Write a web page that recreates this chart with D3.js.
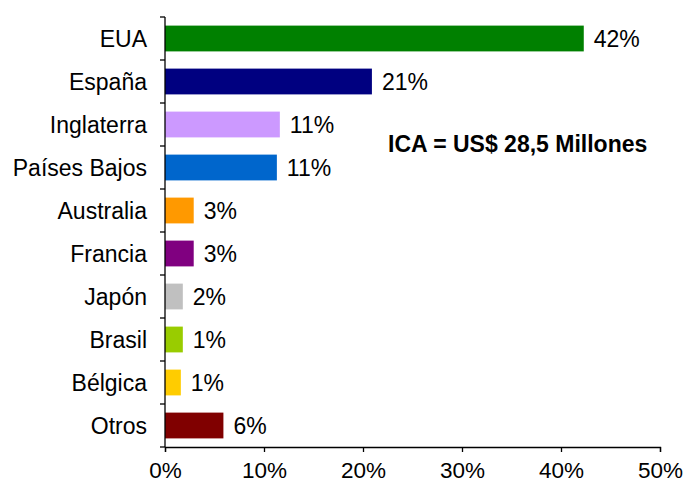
<!DOCTYPE html>
<html><head><meta charset="utf-8">
<script src="https://cdn.jsdelivr.net/npm/d3@7"></script>
<style>body{margin:0;background:#fff}svg{display:block}text{font-family:"Liberation Sans",Arial,sans-serif}</style>
</head><body>
<svg id="c" width="686" height="484"></svg>
<script>
const categories = ["EUA","España","Inglaterra","Países Bajos","Australia","Francia","Japón","Brasil","Bélgica","Otros"];
const values = [42.3, 20.9, 11.6, 11.3, 2.9, 2.9, 1.8, 1.8, 1.6, 5.9];
const valueLabels = ["42%","21%","11%","11%","3%","3%","2%","1%","1%","6%"];
const colors = ["#008000","#000080","#CC99FF","#0066CC","#FF9900","#800080","#C0C0C0","#99CC00","#FFCC00","#800000"];
const xTicks = [0,10,20,30,40,50];
const annotation = "ICA = US$ 28,5 Millones";

const svg = d3.select("#c");
const mLeft = 165, mRight = 660, mTop = 17, mBottom = 447;
const FS = 23;
const x = d3.scaleLinear().domain([0,50]).range([mLeft,mRight]);
const y = d3.scaleBand().domain(categories).range([mTop,mBottom]).paddingInner(0.4).paddingOuter(0.2);

svg.append("g").selectAll("rect").data(categories).join("rect")
  .attr("x", x(0)).attr("y", d=>y(d))
  .attr("width", (d,i)=>x(values[i])-x(0)).attr("height", y.bandwidth())
  .attr("fill", (d,i)=>colors[i]);

svg.append("g").selectAll("text").data(categories).join("text")
  .attr("x", (d,i)=>x(values[i])+10).attr("y", d=>y(d)+y.bandwidth()/2)
  .attr("dy","0.36em").attr("font-size",FS).attr("fill","#000")
  .text((d,i)=>valueLabels[i]);

// y axis
const ya = svg.append("g");
ya.append("line").attr("x1",mLeft).attr("x2",mLeft).attr("y1",mTop).attr("y2",mBottom).attr("stroke","#000").attr("stroke-width",1.3);
const boundaries = d3.range(categories.length+1).map(i=>mTop + i*(mBottom-mTop)/categories.length);
ya.selectAll(".t").data(boundaries).join("line")
  .attr("x1",mLeft-5).attr("x2",mLeft).attr("y1",d=>d).attr("y2",d=>d).attr("stroke","#000").attr("stroke-width",1.3);
ya.selectAll("text").data(categories).join("text")
  .attr("x",147).attr("y",d=>y(d)+y.bandwidth()/2).attr("dy","0.36em")
  .attr("text-anchor","end").attr("font-size",FS).attr("fill","#000").text(d=>d);

// x axis
const xa = svg.append("g").attr("transform",`translate(0,${mBottom})`)
  .call(d3.axisBottom(x).tickValues(xTicks).tickFormat(d=>d+"%").tickSize(5).tickPadding(10));
xa.select(".domain").attr("stroke","#000").attr("stroke-width",1.3);
xa.selectAll(".tick line").attr("stroke","#000").attr("stroke-width",1.3);
xa.selectAll("text").attr("font-size",22.5).attr("font-family","Liberation Sans, Arial, sans-serif").attr("fill","#000");

svg.append("text").attr("x",388).attr("y",144).attr("dy","0.36em")
  .attr("font-size",23).attr("font-weight","bold").attr("fill","#000").text(annotation);
</script>
</body></html>
